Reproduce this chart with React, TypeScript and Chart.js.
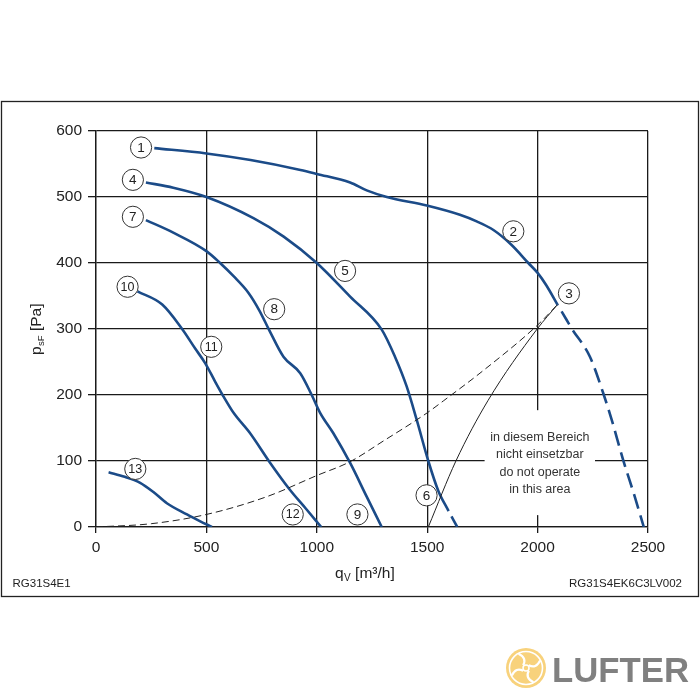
import React, { useEffect, useRef } from 'react';
import { Chart, registerables } from 'chart.js';

Chart.register(...registerables);

// ---- tick values ----
const xTickValues = [0, 500, 1000, 1500, 2000, 2500];
const yTickValues = [0, 100, 200, 300, 400, 500, 600];

// ---- fan curves (q_V in m3/h, p_sF in Pa) ----
const curve1Q = [264, 500, 700, 926, 1000, 1151, 1226, 1317, 1498, 1648, 1724, 1800, 1880, 1958, 2000, 2040, 2090];
const curve1P = [574, 566, 556, 541, 535, 522, 510, 500, 487, 473, 463, 450, 428, 400, 385, 366, 337];
const curve1DashQ = [2090, 2131, 2154, 2237, 2297, 2335, 2387, 2440, 2481];
const curve1DashP = [337, 314, 301, 258, 203, 163, 102, 46, 0];

const curve4Q = [226, 350, 500, 713, 850, 1000, 1151, 1294, 1354, 1407, 1452, 1505, 1550, 1597];
const curve4P = [522, 514, 500, 468, 440, 400, 349, 299, 258, 213, 163, 100, 55, 24];
const curve4DashQ = [1597, 1636];
const curve4DashP = [24, 0];

const curve7Q = [226, 350, 500, 562, 623, 690, 740, 785, 849, 925, 977, 1015, 1075, 1151, 1226, 1294];
const curve7P = [465, 446, 418, 400, 380, 355, 328, 298, 258, 233, 200, 173, 142, 97, 46, 0];

const curve10Q = [188, 300, 390, 450, 495, 540, 577, 623, 698, 789, 879, 950, 1020];
const curve10P = [357, 337, 300, 270, 248, 220, 198, 173, 142, 97, 56, 28, 0];

const curve13Q = [57, 130, 200, 260, 321, 412, 470, 525];
const curve13P = [83, 76, 67, 53, 36, 19, 9, 0];

// system (dashed) characteristic
const systemQ = [0, 250, 500, 774, 1000, 1151, 1300, 1500, 1573, 1750, 2000, 2090];
const systemP = [0, 5, 19, 46, 78, 99, 130, 173, 191, 236, 306, 337];

// operating limit line
const limitQ = [1505, 1630, 1776, 1998, 2090];
const limitP = [0, 100, 192, 300, 337];

// ---- numbered markers ----
const markerNames = ['1', '2', '3', '4', '5', '6', '7', '8', '9', '10', '11', '12', '13'];
const markerQ = [204, 1890, 2142, 167, 1128, 1497, 167, 807, 1184, 143, 522, 891, 178];
const markerP = [575, 448, 354, 526, 388, 48, 470, 330, 19, 364, 273, 19, 88];

// ---- texts ----
const noGoLines = ['in diesem Bereich', 'nicht einsetzbar', 'do not operate', 'in this area'];
const noGoBoxQ = [1760, 2260];
const noGoBoxP = [18, 177];
const leftCode = 'RG31S4E1';
const rightCode = 'RG31S4EK6C3LV002';

const FONT = '"Liberation Sans", Arial, sans-serif';
const BLUE = '#1b4b88';
const INK = '#222222';

const pts = (q: number[], p: number[]) => q.map((v, i) => ({ x: v, y: p[i] }));

const solid = (q: number[], p: number[]) => ({
  data: pts(q, p),
  borderColor: BLUE,
  borderWidth: 2.6,
  pointRadius: 0,
  cubicInterpolationMode: 'monotone' as const,
  fill: false,
});

const decorPlugin = {
  id: 'decor',
  beforeDatasetsDraw(chart: any) {
    const { ctx, scales } = chart;
    const x0 = scales.x.getPixelForValue(noGoBoxQ[0]);
    const x1 = scales.x.getPixelForValue(noGoBoxQ[1]);
    const y0 = scales.y.getPixelForValue(noGoBoxP[1]);
    const y1 = scales.y.getPixelForValue(noGoBoxP[0]);
    ctx.save();
    ctx.fillStyle = '#ffffff';
    ctx.fillRect(x0, y0, x1 - x0, y1 - y0);
    ctx.fillStyle = '#333';
    ctx.font = `12.5px ${FONT}`;
    ctx.textAlign = 'center';
    ctx.textBaseline = 'middle';
    const cx = (x0 + x1) / 2;
    const cy = (y0 + y1) / 2 + 1;
    noGoLines.forEach((t, i) => {
      ctx.fillText(t, cx, cy + (i - 1.5) * 17.5);
    });
    ctx.restore();
  },
  afterDatasetsDraw(chart: any) {
    const { ctx, scales } = chart;
    ctx.save();
    markerNames.forEach((n, i) => {
      const x = scales.x.getPixelForValue(markerQ[i]);
      const y = scales.y.getPixelForValue(markerP[i]);
      ctx.beginPath();
      ctx.arc(x, y, 10.6, 0, Math.PI * 2);
      ctx.fillStyle = '#fff';
      ctx.fill();
      ctx.lineWidth = 1;
      ctx.strokeStyle = '#333';
      ctx.stroke();
      ctx.fillStyle = INK;
      ctx.font = `${n.length > 1 ? 12.5 : 13.5}px ${FONT}`;
      ctx.textAlign = 'center';
      ctx.textBaseline = 'middle';
      ctx.fillText(n, x, y + 0.5);
    });
    ctx.restore();
  },
  afterDraw(chart: any) {
    const { ctx } = chart;
    ctx.save();
    // outer frame
    ctx.strokeStyle = '#222';
    ctx.lineWidth = 1.3;
    ctx.strokeRect(1.5, 101.5, 697, 495);

    // x title: q_V [m³/h]
    ctx.fillStyle = INK;
    ctx.textBaseline = 'alphabetic';
    ctx.textAlign = 'left';
    let x = 335;
    const yb = 578;
    ctx.font = `15.5px ${FONT}`;
    ctx.fillText('q', x, yb);
    x += ctx.measureText('q').width + 0.5;
    ctx.font = `10px ${FONT}`;
    ctx.fillText('V', x, yb + 3);
    x += ctx.measureText('V').width;
    ctx.font = `15.5px ${FONT}`;
    ctx.fillText(' [m³/h]', x, yb);

    // y title: p_sF [Pa]
    ctx.save();
    ctx.translate(41, 355);
    ctx.rotate(-Math.PI / 2);
    let t = 0;
    ctx.font = `15.5px ${FONT}`;
    ctx.fillText('p', t, 0);
    t += ctx.measureText('p').width + 0.5;
    ctx.font = `9.5px ${FONT}`;
    ctx.fillText('sF', t, 3);
    t += ctx.measureText('sF').width;
    ctx.font = `15.5px ${FONT}`;
    ctx.fillText(' [Pa]', t, 0);
    ctx.restore();

    // codes
    ctx.font = `11.5px ${FONT}`;
    ctx.fillStyle = INK;
    ctx.textBaseline = 'middle';
    ctx.textAlign = 'left';
    ctx.fillText(leftCode, 12.5, 584);
    ctx.textAlign = 'right';
    ctx.fillText(rightCode, 682, 584);

    // logo
    const lx = 526, ly = 668, r = 20;
    ctx.beginPath();
    ctx.arc(lx, ly, r, 0, Math.PI * 2);
    ctx.fillStyle = '#f8d27c';
    ctx.fill();
    ctx.strokeStyle = '#ffffff';
    ctx.lineWidth = 1.6;
    ctx.beginPath();
    ctx.arc(lx, ly, r - 3.5, 0, Math.PI * 2);
    ctx.stroke();
    for (let i = 0; i < 4; i++) {
      const a = (i * Math.PI) / 2 + Math.PI / 4;
      ctx.beginPath();
      ctx.moveTo(lx + Math.cos(a) * 4, ly + Math.sin(a) * 4);
      ctx.quadraticCurveTo(
        lx + Math.cos(a + 0.9) * 10,
        ly + Math.sin(a + 0.9) * 10,
        lx + Math.cos(a + 0.3) * (r - 4),
        ly + Math.sin(a + 0.3) * (r - 4)
      );
      ctx.lineWidth = 2.2;
      ctx.stroke();
    }
    ctx.beginPath();
    ctx.arc(lx, ly, 3, 0, Math.PI * 2);
    ctx.lineWidth = 1.5;
    ctx.stroke();
    ctx.fillStyle = '#808080';
    ctx.font = `bold 35px ${FONT}`;
    ctx.textAlign = 'left';
    ctx.textBaseline = 'alphabetic';
    ctx.fillText('LUFTER', 552, 682, 137);
    ctx.restore();
  },
};

export default function App() {
  const ref = useRef<HTMLCanvasElement | null>(null);
  useEffect(() => {
    if (!ref.current) return;
    const gridColor = '#1a1a1a';
    const tickFont = { family: '"Liberation Sans", Arial, sans-serif', size: 15.5 };
    const chart = new Chart(ref.current, {
      type: 'line',
      data: {
        datasets: [
          { ...solid(systemQ, systemP), borderColor: '#222', borderWidth: 1, borderDash: [7, 4] },
          { ...solid(limitQ, limitP), borderColor: '#222', borderWidth: 1 },
          solid(curve1Q, curve1P),
          { ...solid(curve1DashQ, curve1DashP), borderDash: [15, 7], borderDashOffset: 14 },
          solid(curve4Q, curve4P),
          { ...solid(curve4DashQ, curve4DashP), borderDash: [12, 6], borderDashOffset: 12 },
          solid(curve7Q, curve7P),
          solid(curve10Q, curve10P),
          solid(curve13Q, curve13P),
        ] as any,
      },
      options: {
        animation: false,
        responsive: false,
        devicePixelRatio: 1,
        parsing: false as any,
        layout: { padding: { left: 0, right: 52, top: 131, bottom: 133 } },
        plugins: { legend: { display: false }, tooltip: { enabled: false } },
        scales: {
          x: {
            type: 'linear',
            min: 0,
            max: 2500,
            afterBuildTicks: (s: any) => {
              s.ticks = xTickValues.map((v) => ({ value: v }));
            },
            afterFit: (s: any) => {
              s.height = 40;
            },
            ticks: {
              font: tickFont,
              color: INK,
              padding: 5,
              maxRotation: 0,
              autoSkip: false,
              callback: (v: any) => String(v),
            },
            grid: { color: gridColor, lineWidth: 1.3, tickLength: 6 },
            border: { color: gridColor, width: 1.3 },
          },
          y: {
            type: 'linear',
            min: 0,
            max: 600,
            afterBuildTicks: (s: any) => {
              s.ticks = yTickValues.map((v) => ({ value: v }));
            },
            afterFit: (s: any) => {
              s.width = 96;
            },
            ticks: { font: tickFont, color: INK, padding: 6, autoSkip: false, callback: (v: any) => String(v) },
            grid: { color: gridColor, lineWidth: 1.3, tickLength: 8 },
            border: { color: gridColor, width: 1.3 },
          },
        },
      } as any,
      plugins: [decorPlugin],
    });
    return () => chart.destroy();
  }, []);
  return (
    <canvas
      ref={ref}
      width={700}
      height={700}
      style={{ position: 'absolute', left: 0, top: 0, width: 700, height: 700 }}
    />
  );
}
